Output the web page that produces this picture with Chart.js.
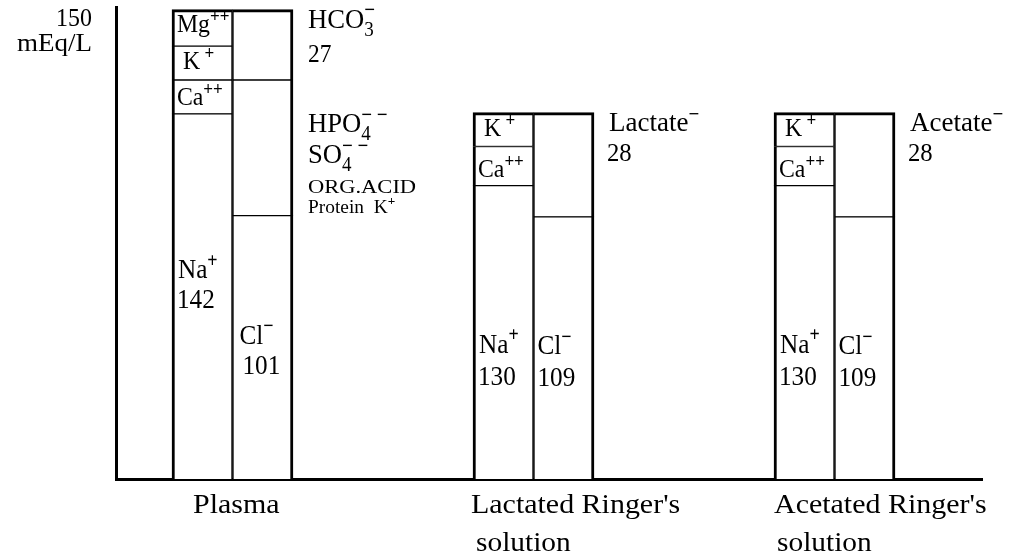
<!DOCTYPE html>
<html>
<head>
<meta charset="utf-8">
<script src="https://cdn.jsdelivr.net/npm/chart.js@4.4.0/dist/chart.umd.min.js"></script>
<style>
  html, body { margin: 0; padding: 0; background: #fff; }
  canvas { display: block; }
</style>
</head>
<body>
<canvas id="ions" width="1027" height="556"></canvas>
<script>
// three solutions, placed at x = 1, 2, 3
const categories = [['Plasma'], ["Lactated Ringer's", 'solution'], ["Acetated Ringer's", 'solution']];
const positions = [1, 2, 3];

// segment heights as the figure draws them (schematic, mEq/L)
const naDrawn = [140, 112.5, 112.5];
const caDrawn = [13, 15, 15];
const kDrawn = [13, 13, 13];
const mgDrawn = [14, null, null];
const clDrawn = [101, 100.5, 100.5];
const otherDrawn = [52, null, null];
const bufferDrawn = [27, 40, 40];

// printed values
const naValues = ['142', '130', '130'];
const clValues = ['101', '109', '109'];
const bufferValues = ['27', '28', '28'];
const bufferNames = ['HCO', 'Lactate', 'Acetate'];

const yMax = 181;
const yTopLabel = '150';
const yUnit = 'mEq/L';

const FONT = '"Liberation Serif", "Times New Roman", serif';

// border widths: thick outline, thin separators between stacked segments
function segBorder(c) {
  const ds = c.chart.data.datasets;
  const i = c.dataIndex;
  const stack = c.dataset.stack;
  let first = -1, last = -1;
  ds.forEach((d, k) => {
    if (d.stack === stack && d.data[i] != null) {
      if (first < 0) first = k;
      last = k;
    }
  });
  const cation = stack === 'cation';
  return {
    top: c.datasetIndex === last ? 3 : 1,
    bottom: c.datasetIndex === first ? 0 : 1,
    left: cation ? 3 : 1.5,
    right: cation ? 1.5 : 3
  };
}

function segment(label, data, stack) {
  return {
    label, data, stack,
    backgroundColor: '#fff',
    borderColor: '#000',
    borderWidth: segBorder,
    borderSkipped: false,
    barThickness: 60.5
  };
}

const datasets = [
  segment('Na+', naDrawn, 'cation'),
  segment('Ca++', caDrawn, 'cation'),
  segment('K+', kDrawn, 'cation'),
  segment('Mg++', mgDrawn, 'cation'),
  segment('Cl-', clDrawn, 'anion'),
  segment('HPO4 SO4 org. acid protein', otherDrawn, 'anion'),
  segment('HCO3 / lactate / acetate', bufferDrawn, 'anion')
];

// text with superscripts / subscripts; parts: 'text' | {sup, sub}
function rich(ctx, x, y, parts, o) {
  const size = o.size, sx = o.sx || 1;
  const main = (o.bold ? 'bold ' : '') + size + 'px ' + FONT;
  const small = 'bold ' + Math.round(size * 0.7) + 'px ' + FONT;
  const smallN = Math.round(size * 0.72) + 'px ' + FONT;
  const widths = parts.map(p => {
    if (typeof p === 'string') { ctx.font = main; return ctx.measureText(p).width; }
    let w = 0;
    if (p.sup) { ctx.font = small; w = Math.max(w, ctx.measureText(p.sup).width); }
    if (p.sub) { ctx.font = smallN; w = Math.max(w, ctx.measureText(p.sub).width); }
    return w;
  });
  const total = widths.reduce((a, b) => a + b, 0);
  ctx.save();
  ctx.translate(x, y);
  ctx.scale(sx, 1);
  ctx.textAlign = 'left';
  ctx.textBaseline = 'alphabetic';
  let cx = o.align === 'right' ? -total : 0;
  parts.forEach((p, k) => {
    if (typeof p === 'string') {
      ctx.font = main;
      ctx.fillText(p, cx, 0);
    } else {
      if (p.sup) { ctx.font = small; ctx.fillText(p.sup, cx, -size * 0.4); }
      if (p.sub) { ctx.font = smallN; ctx.fillText(p.sub, cx, size * 0.3); }
    }
    cx += widths[k];
  });
  ctx.restore();
}

const ionLabels = {
  id: 'ionLabels',
  afterDatasetsDraw(chart) {
    const ctx = chart.ctx;
    const area = chart.chartArea;
    const seg = (d, i) => {
      const e = chart.getDatasetMeta(d).data[i];
      return { l: e.x - e.width / 2, r: e.x + e.width / 2, t: e.y, b: e.base };
    };
    ctx.fillStyle = '#000';

    // axis unit
    rich(ctx, area.left - 24, 26, [yTopLabel], { size: 26, sx: 0.92, align: 'right' });
    rich(ctx, area.left - 24, 51, [yUnit], { size: 25, sx: 1.08, align: 'right' });

    const naY = [164, 167, 167], clY = [128, 137, 137];
    const valGap = [30, 32, 32];
    const catDx = [21, -2, 0], subDx = [0, 5, 3];

    positions.forEach((p, i) => {
      const na = seg(0, i), ca = seg(1, i), k = seg(2, i), cl = seg(4, i), buf = seg(6, i);
      if (mgDrawn[i] != null) {
        const mg = seg(3, i);
        rich(ctx, mg.l + 5, mg.b - 14, ['Mg', { sup: '++' }], { size: 25, sx: 0.95 });
      }
      rich(ctx, k.l + 11, k.b - 11, ['K', { sup: ' +' }], { size: 25, sx: 0.95 });
      rich(ctx, ca.l + 5, ca.b - 9, ['Ca', { sup: '++' }], { size: 25, sx: 0.95 });

      rich(ctx, na.l + 6, na.t + naY[i], ['Na', { sup: '+' }], { size: 28, sx: 0.9 });
      rich(ctx, na.l + 5, na.t + naY[i] + valGap[i], [naValues[i]], { size: 28, sx: 0.9 });
      rich(ctx, cl.l + (i === 0 ? 7 : 4), cl.t + clY[i], ['Cl', { sup: '−' }], { size: 28, sx: 0.9 });
      rich(ctx, cl.l + (i === 0 ? 10 : 4), cl.t + clY[i] + valGap[i], [clValues[i]], { size: 28, sx: 0.9 });

      const rx = cl.r + 15;
      if (i === 0) {
        const ot = seg(5, i);
        rich(ctx, rx, buf.t + 18, [bufferNames[i], { sub: '3', sup: '−' }], { size: 28, sx: 0.95 });
        rich(ctx, rx, buf.t + 52, [bufferValues[i]], { size: 26, sx: 0.9 });
        rich(ctx, rx, ot.t + 52, ['HPO', { sub: '4', sup: '−' }, { sup: ' −' }], { size: 28, sx: 0.95 });
        rich(ctx, rx, ot.t + 83, ['SO', { sub: '4', sup: '−' }, { sup: ' −' }], { size: 28, sx: 0.95 });
        rich(ctx, rx, ot.t + 113, ['ORG.ACID'], { size: 18, sx: 1.25 });
        rich(ctx, rx, ot.t + 133, ['Protein  K', { sup: '+' }], { size: 19, sx: 1.02 });
      } else {
        rich(ctx, rx, buf.t + 18, [bufferNames[i], { sup: '−' }], { size: 27, sx: 1.0 });
        rich(ctx, rx - 2, buf.t + 48, [bufferValues[i]], { size: 26, sx: 0.95 });
      }

      // category name
      const lines = categories[i];
      rich(ctx, na.l + catDx[i], 513, [lines[0]], { size: 28, sx: 1.07 });
      if (lines[1]) rich(ctx, na.l + catDx[i] + subDx[i], 551, [lines[1]], { size: 28, sx: 1.05 });
    });
  }
};

new Chart(document.getElementById('ions'), {
  type: 'bar',
  data: { labels: positions, datasets },
  options: {
    responsive: false,
    animation: false,
    layout: { padding: { left: 116, top: 7, right: 45, bottom: 77 } },
    plugins: { legend: { display: false }, tooltip: { enabled: false } },
    scales: {
      x: {
        type: 'linear',
        offset: false,
        min: 0.613,
        max: 3.49,
        grid: { display: false, drawTicks: false },
        ticks: { display: false },
        border: { color: '#000', width: 3 },
        afterBuildTicks: s => { s.ticks = positions.map(v => ({ value: v })); }
      },
      y: {
        stacked: true,
        min: 0,
        max: yMax,
        grid: { display: false, drawTicks: false },
        ticks: { display: false },
        border: { color: '#000', width: 3 }
      }
    }
  },
  plugins: [ionLabels]
});
</script>
</body>
</html>
